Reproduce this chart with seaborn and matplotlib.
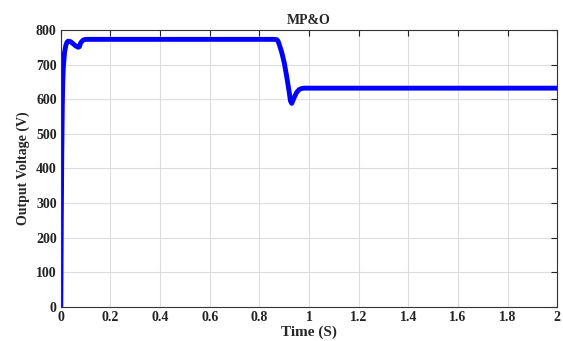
import seaborn as sns
import pandas as pd
import matplotlib.pyplot as plt

time_s = [0, 0.002, 0.004, 0.006, 0.008, 0.01, 0.015, 0.02, 0.025, 0.03, 0.04, 0.05,
          0.06, 0.07, 0.075, 0.08, 0.09, 0.1, 0.3, 0.5, 0.7, 0.86, 0.87, 0.875, 0.88,
          0.89, 0.9, 0.91, 0.92, 0.925, 0.93, 0.94, 0.95, 0.96, 0.97, 0.98, 1.0, 1.5, 2.0]
voltage = [0, 250, 450, 580, 650, 690, 735, 755, 765, 768, 766, 760,
           754, 750, 752, 763, 771, 773, 773, 773, 773, 773, 772, 768, 758,
           735, 705, 665, 620, 595, 588, 605, 620, 628, 631, 632, 632, 632, 632]

df = pd.DataFrame({"Time (S)": time_s, "Output Voltage (V)": voltage})

sns.set_style("whitegrid")
plt.rcParams['font.family'] = ['Liberation Serif', 'DejaVu Serif']
plt.rcParams['font.weight'] = 'bold'

fig, ax = plt.subplots(figsize=(5.63, 3.41), dpi=100)
sns.lineplot(data=df, x="Time (S)", y="Output Voltage (V)", color="#0000ff", linewidth=3.5, ax=ax)

ax.set_xlim(0, 2)
ax.set_ylim(0, 800)
ax.set_xticks([0, 0.2, 0.4, 0.6, 0.8, 1, 1.2, 1.4, 1.6, 1.8, 2])
ax.set_xticklabels(["0", "0.2", "0.4", "0.6", "0.8", "1", "1.2", "1.4", "1.6", "1.8", "2"])
ax.set_yticks(range(0, 801, 100))
ax.tick_params(direction="in", length=4, labelsize=10, colors="#222222", top=True, right=True, pad=3)
ax.grid(True, color="#dddddd", linewidth=0.8)
for s in ax.spines.values():
    s.set_color("#333333")
    s.set_linewidth(0.8)
ax.set_xlabel("Time (S)", fontsize=11, fontweight="bold", labelpad=1)
ax.set_ylabel("Output Voltage (V)", fontsize=10, fontweight="bold", labelpad=4)
ax.set_title("MP&O", fontsize=10, fontweight="bold", pad=4)

fig.subplots_adjust(left=0.108, right=0.99, top=0.912, bottom=0.1)
plt.savefig("out.png", dpi=100)
